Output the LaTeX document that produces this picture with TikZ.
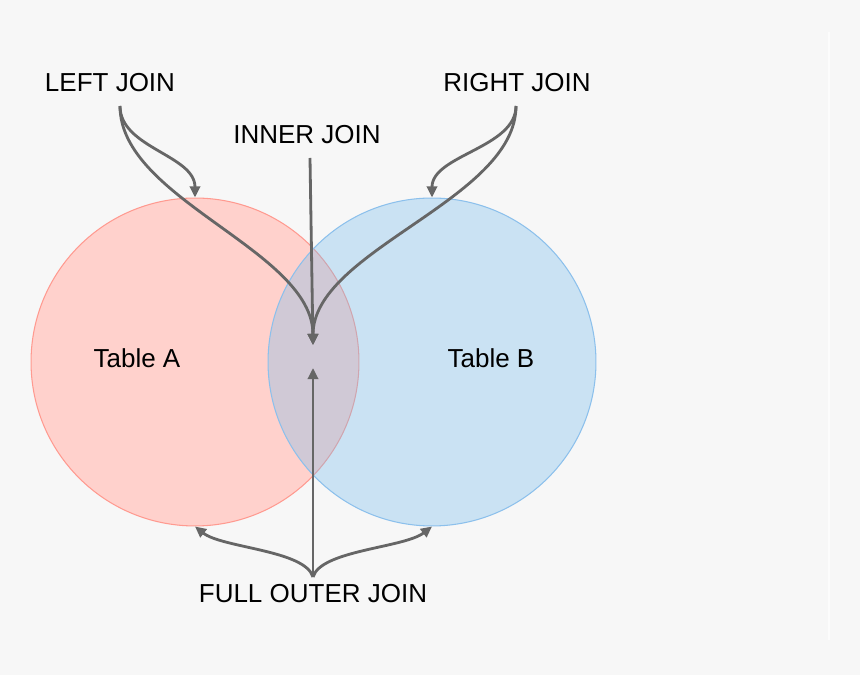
\documentclass[tikz,border=0pt]{standalone}
\usepackage{fontspec}
\setmainfont{Liberation Sans}
\usetikzlibrary{arrows.meta}

\definecolor{bgray}{HTML}{F7F7F7}
\definecolor{redfill}{HTML}{FFD1CC}
\definecolor{redline}{HTML}{FF9A90}
\definecolor{bluefill}{RGB}{118,188,236}
\definecolor{blueline}{HTML}{8CC0EC}
\definecolor{arrowgray}{HTML}{666666}

\tikzset{
  joinarrow/.style={draw=arrowgray, line width=1.6pt, -{Triangle[length=6.3pt,width=5.8pt]}},
  joinlabel/.style={font=\fontsize{14.8}{17}\selectfont, text=black, inner sep=0pt},
  tablecircle/.style={circle, minimum size=6.56cm, inner sep=0pt, line width=0.6pt},
}

\begin{document}
\begin{tikzpicture}[x=0.02cm, y=-0.02cm]
            \fill [bgray] (0,0) rectangle (860,675);
            \useasboundingbox (0,0) rectangle (860,675);
            \draw [white!60!bgray, line width=0.6pt] (829,32) -- (829,640);

            \node [tablecircle, fill=redfill, draw=redline] (tabA) at (195,362) {};
            \node [tablecircle, fill=bluefill, fill opacity=0.34, draw=blueline] (tabB) at (432,362) {};

            \node [joinlabel] (nameA) at (137,358) {Table A};
            \node [joinlabel] (nameB) at (491,358) {Table B};

            \node [joinlabel] (leftjoin) at (110,83) {LEFT JOIN};
            \node [joinlabel] (rightjoin) at (517,83) {RIGHT JOIN};
            \node [joinlabel] (innerjoin) at (307,135) {INNER JOIN};
            \node [joinlabel] (fulljoin) at (313,594) {FULL OUTER JOIN};

            \coordinate (lsrc) at (120,106);
            \coordinate (rsrc) at (516,106);
            \coordinate (isrc) at (310,158);
            \coordinate (fsrc) at (313,577);
            \coordinate (hit) at (313,345);
            \coordinate (hitlow) at (313,368);

            \draw [joinarrow] (lsrc) .. controls (120,148) and (195,155) .. (tabA.north);
            \draw [joinarrow] (lsrc) .. controls (120,200) and (313,250) .. (hit);

            \draw [joinarrow] (rsrc) .. controls (516,148) and (432,155) .. (tabB.north);
            \draw [joinarrow] (rsrc) .. controls (516,200) and (313,250) .. (hit);

            \draw [joinarrow] (isrc) -- (hit);

            \draw [joinarrow] (fsrc) -- (hitlow);
            \draw [joinarrow] (fsrc) .. controls (305,550) and (222,548) .. (tabA.south);
            \draw [joinarrow] (fsrc) .. controls (321,550) and (404,548) .. (tabB.south);
\end{tikzpicture}
\end{document}
